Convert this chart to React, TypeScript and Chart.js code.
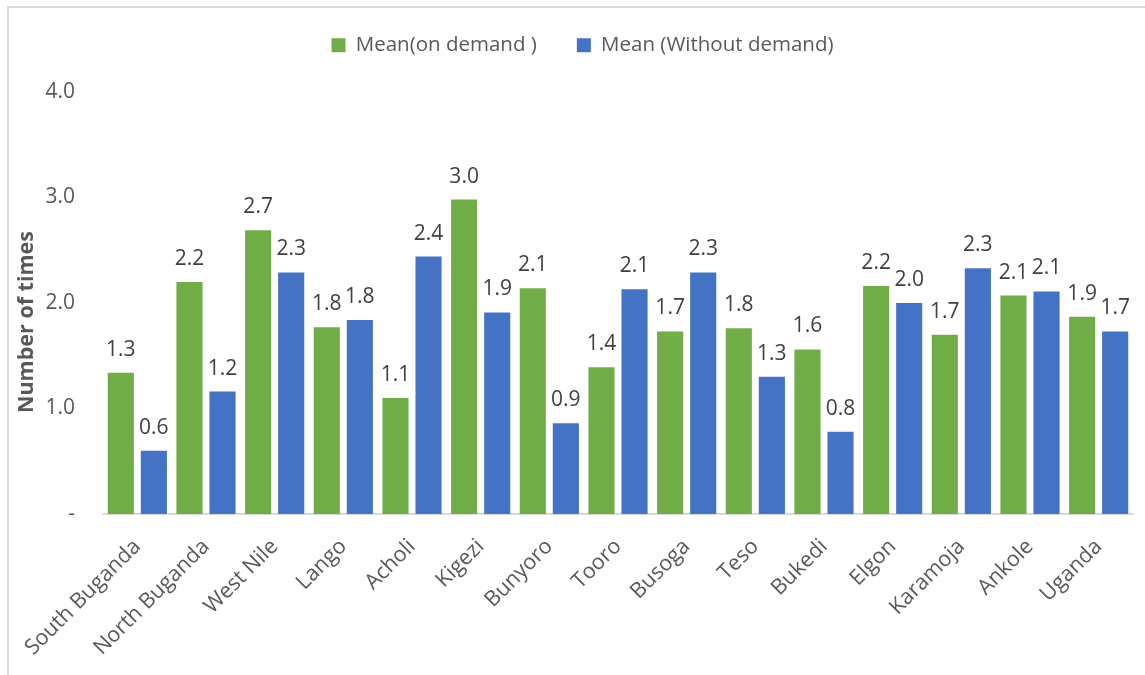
import React, { useEffect, useRef } from "react";
import { Chart, registerables } from "chart.js";

Chart.register(...registerables);

const categories = [
  "South Buganda", "North Buganda", "West Nile", "Lango", "Acholi", "Kigezi", "Bunyoro",
  "Tooro", "Busoga", "Teso", "Bukedi", "Elgon", "Karamoja", "Ankole", "Uganda",
];
const meanOnDemand = [1.34, 2.2, 2.69, 1.77, 1.1, 2.98, 2.14, 1.39, 1.73, 1.76, 1.56, 2.16, 1.7, 2.07, 1.87];
const meanWithoutDemand = [0.6, 1.16, 2.29, 1.84, 2.44, 1.91, 0.86, 2.13, 2.29, 1.3, 0.78, 2.0, 2.33, 2.11, 1.73];
const seriesNames = ["Mean(on demand )", "Mean (Without demand)"];
const yTicks = [0, 1, 2, 3, 4];
const yTitle = "Number of times";

const FONT = "'Open Sans'";
const PAD_TOP = -5;
const PAD_LEFT = 14;
const AREA_TOP = 92;
const LEGEND_SHIFT = 9;

const dataLabelPlugin = {
  id: "dataLabels",
  afterDatasetsDraw(chart: any) {
    const ctx = chart.ctx;
    ctx.save();
    ctx.font = `21px ${FONT}`;
    ctx.fillStyle = "#404040";
    ctx.textAlign = "center";
    ctx.textBaseline = "alphabetic";
    chart.data.datasets.forEach((ds: any, i: number) => {
      const meta = chart.getDatasetMeta(i);
      meta.data.forEach((bar: any, j: number) => {
        const v = ds.data[j] as number;
        ctx.fillText(v.toFixed(1), bar.x, bar.y - 17);
      });
    });
    ctx.restore();
  },
};

const yTitlePlugin = {
  id: "yTitle",
  afterDraw(chart: any) {
    const ctx = chart.ctx;
    const y = chart.scales.y;
    ctx.save();
    ctx.font = `bold 21.5px ${FONT}`;
    ctx.fillStyle = "#595959";
    ctx.textAlign = "center";
    ctx.textBaseline = "middle";
    ctx.translate(27, (y.top + y.bottom) / 2 + 19);
    ctx.rotate(-Math.PI / 2);
    ctx.fillText(yTitle, 0, 0);
    ctx.restore();
  },
};

const legendSpacePlugin = {
  id: "legendSpace",
  beforeLayout(chart: any) {
    const lg = chart.legend;
    if (lg && !lg.__patched) {
      const orig = lg.fit.bind(lg);
      lg.fit = function () {
        orig();
        this.height = AREA_TOP - PAD_TOP;
      };
      lg.__patched = true;
    }
  },
  afterLayout(chart: any) {
    const lg = chart.legend;
    if (lg) {
      lg.left += LEGEND_SHIFT;
      lg.right += LEGEND_SHIFT;
    }
  },
};

export default function App() {
  const ref = useRef<HTMLCanvasElement | null>(null);
  useEffect(() => {
    if (!ref.current) return;
    const chart = new Chart(ref.current, {
      type: "bar",
      data: {
        labels: categories,
        datasets: [
          {
            label: seriesNames[0],
            data: meanOnDemand,
            backgroundColor: "#70AD47",
            barPercentage: 0.79,
            categoryPercentage: 0.963,
          },
          {
            label: seriesNames[1],
            data: meanWithoutDemand,
            backgroundColor: "#4472C4",
            barPercentage: 0.79,
            categoryPercentage: 0.963,
          },
        ],
      },
      options: {
        animation: false,
        responsive: false,
        maintainAspectRatio: false,
        layout: { padding: { left: PAD_LEFT, right: 12, top: PAD_TOP, bottom: 0 } },
        plugins: {
          legend: {
            position: "top",
            labels: {
              boxWidth: 14,
              boxHeight: 14,
              color: "#595959",
              font: { family: FONT, size: 20.5 },
              padding: 40,
            },
          },
          tooltip: { enabled: false },
        },
        scales: {
          x: {
            grid: { display: false, drawTicks: false },
            border: { display: true, color: "#d9d9d9", width: 2 },
            ticks: {
              color: "#595959",
              font: { family: FONT, size: 21.5 },
              minRotation: 45,
              maxRotation: 45,
              padding: 20,
              autoSkip: false,
            },
            afterFit: (scale: any) => {
              scale.height = 675 - 514;
            },
          },
          y: {
            min: 0,
            max: 4,
            afterBuildTicks: (scale: any) => {
              scale.ticks = yTicks.map((v) => ({ value: v }));
            },
            grid: { display: false, drawTicks: false },
            border: { display: false },
            ticks: {
              color: "#595959",
              font: { family: FONT, size: 21 },
              padding: 28,
              callback: (v: any) => (Number(v) === 0 ? "-" : Number(v).toFixed(1)),
            },
            afterFit: (scale: any) => {
              scale.width = 103 - PAD_LEFT;
            },
          },
        },
      },
      plugins: [legendSpacePlugin, dataLabelPlugin, yTitlePlugin],
    });
    return () => chart.destroy();
  }, []);

  return (
    <div
      style={{
        position: "fixed",
        left: 0,
        top: 0,
        width: 1145,
        height: 675,
        overflow: "hidden",
        background: "#ffffff",
      }}
    >
      <div
        style={{
          position: "absolute",
          left: 7,
          top: 6,
          width: 1200,
          height: 800,
          border: "2px solid #d9d9d9",
          boxSizing: "border-box",
        }}
      />
      <canvas
        ref={ref}
        width={1145}
        height={675}
        style={{ position: "absolute", left: 0, top: 0, width: 1145, height: 675 }}
      />
    </div>
  );
}
